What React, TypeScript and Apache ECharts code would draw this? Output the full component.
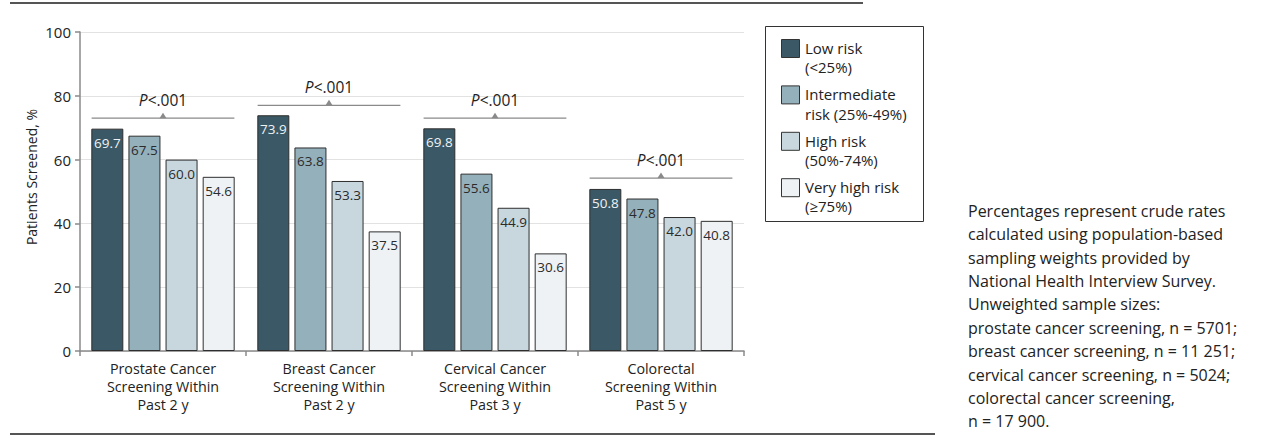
import React, { useEffect, useRef } from "react";
import * as echarts from "echarts";

const categories = [
  "Prostate Cancer\nScreening Within\nPast 2 y",
  "Breast Cancer\nScreening Within\nPast 2 y",
  "Cervical Cancer\nScreening Within\nPast 3 y",
  "Colorectal\nScreening Within\nPast 5 y",
];
const seriesNames = [
  "Low risk (<25%)",
  "Intermediate risk (25%-49%)",
  "High risk (50%-74%)",
  "Very high risk (≥75%)",
];
const legendLabels = [
  "Low risk\n(<25%)",
  "Intermediate\nrisk (25%-49%)",
  "High risk\n(50%-74%)",
  "Very high risk\n(≥75%)",
];
const lowRisk = [69.7, 73.9, 69.8, 50.8];
const intermediateRisk = [67.5, 63.8, 55.6, 47.8];
const highRisk = [60.0, 53.3, 44.9, 42.0];
const veryHighRisk = [54.6, 37.5, 30.6, 40.8];
const bracketLevels = [73, 77, 73, 54.2];
const pValues = ["<.001", "<.001", "<.001", "<.001"];
const yTicks = [0, 20, 40, 60, 80, 100];
const noteLines = [
  "Percentages represent crude rates",
  "calculated using population-based",
  "sampling weights provided by",
  "National Health Interview Survey.",
  "Unweighted sample sizes:",
  "prostate cancer screening, n = 5701;",
  "breast cancer screening, n = 11 251;",
  "cervical cancer screening, n = 5024;",
  "colorectal cancer screening,",
  "n = 17 900.",
];

const colors = ["#3a5865", "#94b0bb", "#c8d7de", "#eef2f5"];
const labelColors = ["#eef3f5", "#2b2b2b", "#2b2b2b", "#2b2b2b"];
const FONT = "'Open Sans', sans-serif";

export default function App() {
  const ref = useRef<HTMLDivElement>(null);
  useEffect(() => {
    if (!ref.current) return;
    const chart = echarts.init(ref.current, undefined, { renderer: "svg" });
    const allValues = [lowRisk, intermediateRisk, highRisk, veryHighRisk];

    const barSeries = allValues.map((vals, i) => ({
      type: "bar",
      name: seriesNames[i],
      data: vals,
      barWidth: 32,
      barGap: "16%",
      itemStyle: { color: colors[i], borderColor: "#2e2e2e", borderWidth: 1 },
      label: {
        show: true,
        position: "insideTop",
        distance: 7,
        formatter: (p: any) => Number(p.value).toFixed(1),
        color: labelColors[i],
        fontFamily: FONT,
        fontSize: 13.5,
      },
      silent: true,
    }));

    const bracketSeries = {
      type: "custom",
      name: "P value",
      coordinateSystem: "cartesian2d",
      silent: true,
      z: 10,
      data: bracketLevels.map((v, i) => [i, v]),
      renderItem: (params: any, api: any) => {
        const cat = api.value(0);
        const lvl = api.value(1);
        const idx = params.dataIndex;
        const pt = api.coord([cat, lvl]);
        const w = api.size([1, 0])[0];
        const half = w * 0.43;
        return {
          type: "group",
          children: [
            {
              type: "line",
              shape: { x1: pt[0] - half, y1: pt[1], x2: pt[0] + half, y2: pt[1] },
              style: { stroke: "#8a8a8a", lineWidth: 1.2 },
            },
            {
              type: "polygon",
              shape: { points: [[pt[0] - 3.5, pt[1]], [pt[0] + 3.5, pt[1]], [pt[0], pt[1] - 5.5]] },
              style: { fill: "#8a8a8a" },
            },
            {
              type: "text",
              x: pt[0],
              y: pt[1] - 18,
              style: {
                text: "{i|P}{n|" + pValues[idx] + "}",
                align: "center",
                verticalAlign: "middle",
                rich: {
                  i: { fontStyle: "italic", fontFamily: FONT, fontSize: 15.5, fill: "#222" },
                  n: { fontFamily: FONT, fontSize: 15.5, fill: "#222" },
                },
              },
            },
          ],
        };
      },
    };

    const graphics: any[] = [
      { type: "line", shape: { x1: 10, y1: 3, x2: 863, y2: 3 }, style: { stroke: "#555", lineWidth: 2 } },
      { type: "line", shape: { x1: 10, y1: 434, x2: 935, y2: 434 }, style: { stroke: "#555", lineWidth: 2 } },
      {
        type: "text",
        x: 31,
        y: 177,
        rotation: Math.PI / 2,
        style: {
          text: "Patients Screened, %",
          align: "center",
          verticalAlign: "middle",
          fontFamily: FONT,
          fontSize: 14,
          fill: "#222",
        },
      },
      {
        type: "rect",
        shape: { x: 765.5, y: 26.5, width: 158, height: 195 },
        style: { fill: "#fff", stroke: "#333", lineWidth: 1 },
      },
    ];
    legendLabels.forEach((lab, i) => {
      const top = 39 + 46.4 * i;
      graphics.push({
        type: "rect",
        shape: { x: 781.5, y: top + 0.5, width: 18, height: 18 },
        style: { fill: colors[i], stroke: "#333", lineWidth: 1 },
      });
      graphics.push({
        type: "text",
        x: 805,
        y: top - 1,
        style: {
          text: lab,
          fontFamily: FONT,
          fontSize: 15,
          lineHeight: 19.5,
          fill: "#222",
          verticalAlign: "top",
        },
      });
    });
    graphics.push({
      type: "text",
      x: 968,
      y: 199,
      style: {
        text: noteLines.join("\n"),
        fontFamily: FONT,
        fontSize: 16,
        lineHeight: 23.4,
        fill: "#222",
        verticalAlign: "top",
      },
    });

    chart.setOption({
      animation: false,
      grid: { left: 80, right: 521, top: 32, bottom: 86, containLabel: false },
      xAxis: {
        type: "category",
        data: categories,
        axisLine: { lineStyle: { color: "#8a8a8a", width: 1.5 } },
        axisTick: { show: true, length: 5, lineStyle: { color: "#8a8a8a", width: 1.5 } },
        axisLabel: { fontFamily: FONT, fontSize: 14.3, color: "#222", lineHeight: 18, margin: 8 },
      },
      yAxis: {
        type: "value",
        min: 0,
        max: 100,
        interval: 20,
        axisLine: { show: true, lineStyle: { color: "#8a8a8a", width: 1.5 } },
        axisTick: { show: true, length: 5, lineStyle: { color: "#8a8a8a", width: 1.5 } },
        axisLabel: {
          fontFamily: FONT,
          fontSize: 15,
          color: "#222",
          margin: 9,
          formatter: (v: number) => (yTicks.includes(v) ? String(v) : ""),
        },
        splitLine: { lineStyle: { color: "#e2e2e2", width: 1 } },
      },
      series: [...barSeries, bracketSeries],
      graphic: graphics,
    });
    return () => chart.dispose();
  }, []);
  return <div ref={ref} style={{ width: 1265, height: 437, position: "absolute", left: 0, top: 0 }} />;
}
